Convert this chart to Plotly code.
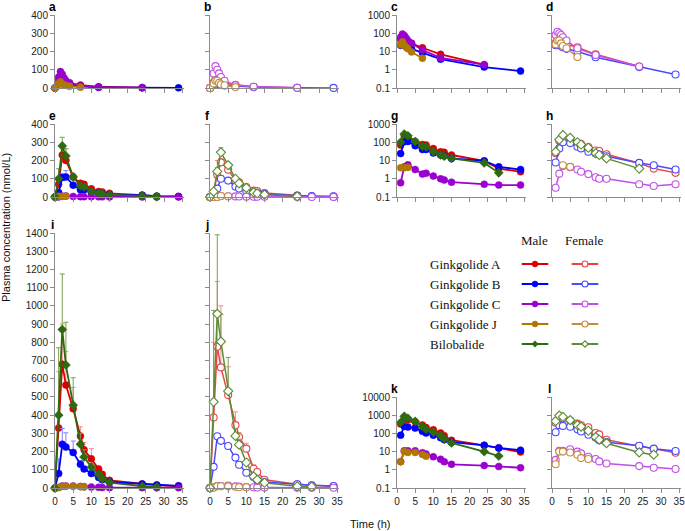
import plotly.graph_objects as go

W, H = 685, 531

ANALYTES = ["Ginkgolide A", "Ginkgolide B", "Ginkgolide C", "Ginkgolide J", "Bilobalide"]
KEYS = ["GA", "GB", "GC", "GJ", "BB"]
SEXES = ["Male", "Female"]

# sampling times (h)
T1 = [0, 1, 1.5, 2, 2.5, 3, 4, 7, 12, 24, 34]
T = [0, 1, 2, 3, 5, 7, 8, 10, 12, 13, 15, 24, 28, 34]

# ---- group 1 (panels a-d) ----
GA_M1 = [0, 45, 65, 55, 45, 35, 28, 16, 7, 1.9, None]
GB_M1 = [0, 22, 32, 28, 22, 18, 14, 8.5, 3.8, 1.4, 0.85]
GC_M1 = [0, 60, 90, 75, 55, 40, 28, 12, 4.5, 1.9, None]
GJ_M1 = [0, 24, 34, 22, 17, 14, 9.5, 4.3, None, None, None]
GA_F1 = [0, 30, 42, 40, 33, 28, 24, 17, 7, 1.5, None]
GB_F1 = [0, 22, 28, 25, 20, 17, 14, 10, 4.8, 1.4, 0.55]
GC_F1 = [0, 80, 120, 100, 80, 60, 40, 15, 6.5, 1.5, None]
GJ_F1 = [0, 25, 40, 40, 28, 20, 15, 5, None, None, None]

# ---- group 2 (panels e-h) ----
GA_M2 = [0, 70, 230, 200, 110, 75, 70, 45, 30, 28, 20, 9.5, 3.6, 2.4]
GB_M2 = [0, 24, 107, 110, 65, 40, 40, 26, 20, 18, 13, 9.5, 4.5, 3.2]
GC_M2 = [0, 0.6, 4.5, 5.8, 3.2, 1.8, 2.0, 1.4, 1.0, 0.85, 0.65, 0.5, 0.45, 0.45]
GJ_M2 = [0, 4, 4, 4.2, None, None, None, None, None, None, None, None, None, None]
BB_M2 = [0, 100, 280, 225, 110, 60, 55, 30, 20, 17, 13, 7.4, 2.1, None]
GA_F2 = [0, 25, 120, 190, 150, 90, 80, 55, 35, 33, 22, 7, 3.6, 2.1]
GB_F2 = [0, 7.7, 46, 100, 90, 57, 46, 30, 24, 21, 17, 7.4, 5.5, 3.2]
GC_F2 = [0, 0.32, 1.9, 5.0, 4.3, 3.2, 2.4, 1.8, 1.2, 1.0, 1.0, 0.5, 0.4, 0.5]
GJ_F2 = [0, 0, 0, 5.5, 4.5, None, None, None, None, None, None, None, None, None]
BB_F2 = [0, 30, 140, 245, 175, 100, 75, 50, 25, 20, 13, 3.6, None, None]

# upper error (SD) group 2
GA_M2_ERR = [0, 20, 40, 66, 20, 10, 10, 5, 4, 3, 2, 0, 0, 0]
GB_M2_ERR = [0, 10, 20, 35, 10, 5, 5, 3, 2, 2, 1, 0, 0, 0]
BB_M2_ERR = [0, 55, 47, 40, 15, 10, 10, 5, 3, 2, 2, 0, 0, 0]
GA_F2_ERR = [0, 10, 80, 20, 15, 10, 8, 5, 4, 3, 2, 0, 0, 0]
GB_F2_ERR = [0, 5, 10, 15, 10, 5, 5, 3, 2, 2, 1, 0, 0, 0]
BB_F2_ERR = [0, 10, 20, 25, 15, 10, 8, 5, 3, 2, 2, 0, 0, 0]

# ---- group 3 (panels i-l) ----
GA_M3 = [0, 330, 680, 565, 435, 285, 210, 160, 105, 75, 42, 22, 16, 9.5]
GB_M3 = [0, 80, 240, 225, 195, 130, 105, 80, 58, 45, 33, 22, 16, 12]
GC_M3 = [0, 2.8, 11, 11, 11, 8.7, 7.4, 5.2, 3.8, 2.8, 2.0, 1.7, 1.5, 1.3]
GJ_M3 = [0, 2.8, 10, 9, 9, 7, 5.5, None, None, None, None, None, None, None]
BB_M3 = [0, 400, 870, 675, 455, 240, 170, 115, 75, 50, 30, 10, 5.7, None]
GA_F3 = [0, 387, 776, 662, 510, 345, 280, 216, 106, 88, 45, 20, 14, 8.7]
GB_F3 = [0, 116, 284, 259, 231, 167, 128, 84, 60, 42, 33, 21, 14.5, 10.7]
GC_F3 = [0, 3.5, 11, 11, 13.4, 10, 8, 5.2, 3.9, 2.9, 2.2, 1.6, 1.3, 1.1]
GJ_F3 = [0, 2.0, 10, 10, 9, 6.8, 4.4, 3.9, None, None, None, None, None, None]
BB_F3 = [0, 473, 956, 804, 532, 286, 238, 140, 63, 45, 29, 9, 6.8, None]

GA_M3_ERR = [0, 308, 220, 185, 117, 51, 40, 56, 12, 10, 8, 0, 0, 0]
GB_M3_ERR = [0, 80, 87, 78, 63, 20, 10, 10, 5, 5, 3, 0, 0, 0]
BB_M3_ERR = [0, 370, 305, 235, 150, 60, 40, 20, 10, 5, 3, 0, 0, None]
GA_F3_ERR = [0, 413, 358, 338, 156, 73, 25, 30, 22, 10, 5, 0, 0, 0]
GB_F3_ERR = [0, 15, 15, 12, 10, 8, 5, 5, 4, 3, 2, 0, 0, 0]
BB_F3_ERR = [0, 502, 434, 150, 185, 40, 30, 15, 10, 5, 3, 0, 0, None]

GROUPS = {
    1: {"t": T1,
        "Male": {"GA": (GA_M1, None), "GB": (GB_M1, None), "GC": (GC_M1, None), "GJ": (GJ_M1, None)},
        "Female": {"GA": (GA_F1, None), "GB": (GB_F1, None), "GC": (GC_F1, None), "GJ": (GJ_F1, None)}},
    2: {"t": T,
        "Male": {"GA": (GA_M2, GA_M2_ERR), "GB": (GB_M2, GB_M2_ERR), "GC": (GC_M2, None),
                 "GJ": (GJ_M2, None), "BB": (BB_M2, BB_M2_ERR)},
        "Female": {"GA": (GA_F2, GA_F2_ERR), "GB": (GB_F2, GB_F2_ERR), "GC": (GC_F2, None),
                   "GJ": (GJ_F2, None), "BB": (BB_F2, BB_F2_ERR)}},
    3: {"t": T,
        "Male": {"GA": (GA_M3, GA_M3_ERR), "GB": (GB_M3, GB_M3_ERR), "GC": (GC_M3, None),
                 "GJ": (GJ_M3, None), "BB": (BB_M3, BB_M3_ERR)},
        "Female": {"GA": (GA_F3, GA_F3_ERR), "GB": (GB_F3, GB_F3_ERR), "GC": (GC_F3, None),
                   "GJ": (GJ_F3, None), "BB": (BB_F3, BB_F3_ERR)}},
}

COL = {"Male": {"GA": "#DD0000", "GB": "#0000FF", "GC": "#9A00D0", "GJ": "#B07800", "BB": "#2E6A10"},
       "Female": {"GA": "#E64646", "GB": "#4A4AFF", "GC": "#C050E6", "GJ": "#C48C40", "BB": "#5E8C34"}}
ERRCOL = {"GA": "#EE9090", "GB": "#8080FF", "BB": "#78A050"}

# panels: label, x0, x1, ytop, ybottom (px), log?, yrange, ytickvals, show y labels, show x labels, group, sex
PANELS = [
    ("a", 55, 184, 15, 88, False, [0, 400], [0, 100, 200, 300, 400], True, False, 1, "Male"),
    ("b", 210, 339, 15, 88, False, [0, 400], [0, 100, 200, 300, 400], False, False, 1, "Female"),
    ("c", 397, 526, 15, 88, True, [-1, 3], [0.1, 1, 10, 100, 1000], True, False, 1, "Male"),
    ("d", 552, 681, 15, 88, True, [-1, 3], [0.1, 1, 10, 100, 1000], False, False, 1, "Female"),
    ("e", 55, 184, 124, 197, False, [0, 400], [0, 100, 200, 300, 400], True, False, 2, "Male"),
    ("f", 210, 339, 124, 197, False, [0, 400], [0, 100, 200, 300, 400], False, False, 2, "Female"),
    ("g", 397, 526, 124, 197, True, [-1, 3], [0.1, 1, 10, 100, 1000], True, False, 2, "Male"),
    ("h", 552, 681, 124, 197, True, [-1, 3], [0.1, 1, 10, 100, 1000], False, False, 2, "Female"),
    ("i", 55, 184, 233, 488, False, [0, 1400], list(range(0, 1401, 100)), True, True, 3, "Male"),
    ("j", 210, 339, 233, 488, False, [0, 1400], list(range(0, 1401, 100)), False, True, 3, "Female"),
    ("k", 397, 526, 397, 488, True, [-1, 4], [0.1, 1, 10, 100, 1000, 10000], True, True, 3, "Male"),
    ("l", 552, 681, 397, 488, True, [-1, 4], [0.1, 1, 10, 100, 1000, 10000], False, True, 3, "Female"),
]

XTICKS = [0, 5, 10, 15, 20, 25, 30, 35]
AXCOL = "#8c8c8c"
FONT = "Liberation Sans, Arial, sans-serif"

fig = go.Figure()
layout = {}
annotations = []


def fmt(v):
    return ("%g" % v)


for idx, (lab, x0, x1, yt, yb, islog, yr, ytv, showy, showx, grp, sex) in enumerate(PANELS, start=1):
    xa = "x" if idx == 1 else "x%d" % idx
    ya = "y" if idx == 1 else "y%d" % idx
    xk = "xaxis" if idx == 1 else "xaxis%d" % idx
    yk = "yaxis" if idx == 1 else "yaxis%d" % idx
    layout[xk] = dict(domain=[x0 / W, x1 / W], anchor=ya, range=[0, 35.5], tickvals=XTICKS,
                      showticklabels=showx, ticks="outside", ticklen=4, tickcolor=AXCOL, automargin=False,
                      ticklabeloverflow="allow",
                      showline=True, linecolor=AXCOL, linewidth=1, showgrid=False, zeroline=False,
                      tickfont=dict(size=10, color="#222", family=FONT))
    yax = dict(domain=[1 - yb / H, 1 - yt / H], anchor=xa, range=yr, tickvals=ytv, automargin=False,
               showticklabels=showy, ticks="outside", ticklen=4, tickcolor=AXCOL,
               ticklabeloverflow="allow",
               showline=True, linecolor=AXCOL, linewidth=1, showgrid=False, zeroline=False,
               tickfont=dict(size=10, color="#222", family=FONT))
    if islog:
        yax["type"] = "log"
        yax["ticktext"] = [fmt(v) for v in ytv]
    layout[yk] = yax

    annotations.append(dict(text="<b>%s</b>" % lab, x=(x0 - 3) / W, y=1 - (yt - 8) / H, xref="paper",
                            yref="paper", showarrow=False, xanchor="center", yanchor="middle",
                            font=dict(size=12, family=FONT, color="#000")))

    g = GROUPS[grp]
    tt = g["t"]
    for key in KEYS:
        if key not in g[sex]:
            continue
        vals, err = g[sex][key]
        xs, ys, es = [], [], []
        for i, (ti, vi) in enumerate(zip(tt, vals)):
            if vi is None:
                continue
            if islog and vi <= 0:
                continue
            xs.append(ti)
            ys.append(vi)
            es.append((err[i] or 0) if err is not None else 0)
        c = COL[sex][key]
        sym = "diamond" if key == "BB" else "circle"
        if sex == "Male":
            mk = dict(symbol=sym, size=7, color=c, line=dict(width=0.5, color=c))
        else:
            mk = dict(symbol=sym, size=7, color="white", line=dict(width=1.1, color=c))
        tr = dict(x=xs, y=ys, xaxis=xa, yaxis=ya, mode="lines+markers",
                  line=dict(color=c, width=1.8 if sex == "Male" else 1.5),
                  marker=mk, showlegend=False, cliponaxis=False, hoverinfo="skip")
        if (not islog) and err is not None:
            tr["error_y"] = dict(type="data", symmetric=False, array=es, arrayminus=[0] * len(es),
                                 color=ERRCOL.get(key, c), thickness=1, width=2.5)
        fig.add_trace(go.Scatter(**tr))

# ---- legend drawn on its own hidden categorical axes ----
LX = "x13"
LY = "y13"
layout["xaxis13"] = dict(domain=[510 / W, 610 / W], anchor=LY, type="category", automargin=False,
                         categoryorder="array", categoryarray=SEXES, range=[-0.5, 1.5], visible=False)
layout["yaxis13"] = dict(domain=[1 - 354 / H, 1 - 254 / H], anchor=LX, type="category", automargin=False,
                         categoryorder="array", categoryarray=ANALYTES, range=[4.5, -0.5], visible=False)
for key, name in zip(KEYS, ANALYTES):
    for sex in SEXES:
        c = COL[sex][key]
        # the short line of the legend key
        fig.add_trace(go.Scatter(x=[sex], y=[name], xaxis=LX, yaxis=LY, mode="markers",
                                 marker=dict(symbol="line-ew", size=19, color=c, line=dict(width=2, color=c)),
                                 showlegend=False, hoverinfo="skip", cliponaxis=False))
        sym = "diamond" if key == "BB" else "circle"
        sz = 5 if key == "BB" else 6
        if sex == "Male":
            mk = dict(symbol=sym, size=sz, color=c, line=dict(width=0.5, color=c))
        else:
            mk = dict(symbol=sym, size=sz, color="white", line=dict(width=1.1, color=c))
        fig.add_trace(go.Scatter(x=[sex], y=[name], xaxis=LX, yaxis=LY, mode="markers", marker=mk,
                                 showlegend=False, hoverinfo="skip", cliponaxis=False))

SERIF = "Liberation Serif, Times New Roman, serif"
for i, name in enumerate(ANALYTES):
    annotations.append(dict(text=name, x=428 / W, y=1 - (264 + 20 * i) / H, xref="paper", yref="paper",
                            showarrow=False, xanchor="left", yanchor="middle",
                            font=dict(size=13, family=SERIF, color="#111")))
for sx, xc in zip(SEXES, [534, 584]):
    annotations.append(dict(text=sx, x=xc / W, y=1 - 240 / H, xref="paper", yref="paper",
                            showarrow=False, xanchor="center", yanchor="middle",
                            font=dict(size=13, family=SERIF, color="#111")))

annotations.append(dict(text="Plasma concentration (nmol/L)", x=6 / W, y=1 - 228 / H, xref="paper",
                        yref="paper", showarrow=False, textangle=-90, xanchor="center", yanchor="middle",
                        font=dict(size=11, family=FONT, color="#111")))
annotations.append(dict(text="Time (h)", x=370 / W, y=1 - 524 / H, xref="paper", yref="paper",
                        showarrow=False, xanchor="center", yanchor="middle",
                        font=dict(size=11, family=FONT, color="#111")))

fig.update_layout(width=W, height=H, margin=dict(l=0, r=0, t=0, b=0, autoexpand=False), plot_bgcolor="white",
                  paper_bgcolor="white", showlegend=False, annotations=annotations, **layout)

fig.write_html("out.html", config={"displayModeBar": False},
               post_script="document.body.style.margin='0';document.body.style.overflow='hidden';")
